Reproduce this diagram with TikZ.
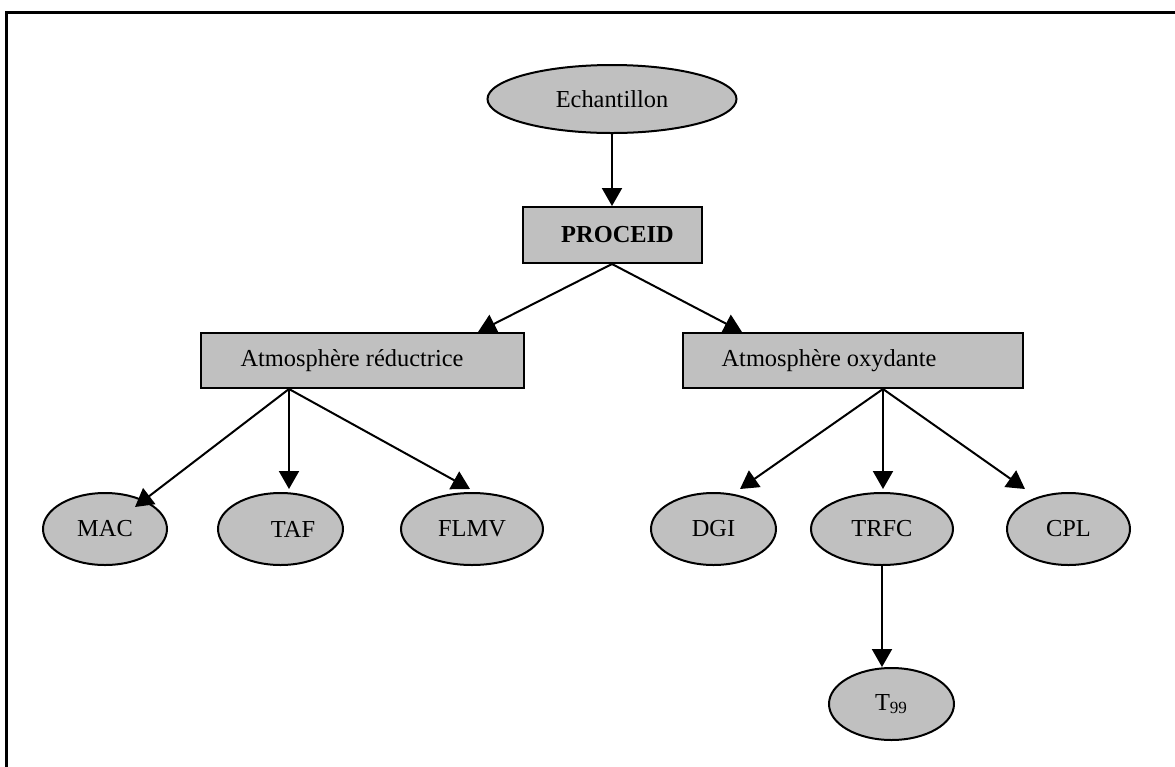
\documentclass[tikz,border=0pt]{standalone}
\usepackage{fontspec}
\setmainfont{Liberation Serif}
\usetikzlibrary{arrows.meta,shapes.geometric}
\definecolor{Shade}{HTML}{C0C0C0}
\tikzset{
  oval/.style={ellipse,draw=black,fill=Shade,line width=1pt,minimum width=62pt,minimum height=36pt,inner sep=0pt},
  box/.style={rectangle,draw=black,fill=Shade,line width=1pt,minimum height=27.5pt,inner sep=0pt},
  flow/.style={-{Triangle[length=9pt,width=10pt]},draw=black,line width=1pt},
  frameline/.style={draw=black,line width=1.5pt}
}

\begin{document}
\begin{tikzpicture}[x=0.5pt,y=-0.5pt,font=\fontsize{12.2}{14}\selectfont]
  \useasboundingbox (0,0) rectangle (1175,767);
  \draw[frameline] (6,767) -- (6,12.5) -- (1175,12.5);
  % top of the tree
  \node[oval,minimum width=124.5pt,minimum height=34pt] (ech) at (612,99) {Echantillon};
  \node[box,minimum width=89.5pt,minimum height=28pt] (proc) at (612,235) {\hspace{5.5pt}\textbf{PROCEID}};
  \node[box,minimum width=161.5pt] (red) at (362.5,360.5) {Atmosphère réductrice\hspace*{10.5pt}};
  \node[box,minimum width=170pt] (ox) at (853,360.5) {Atmosphère oxydante\hspace*{24pt}};
  % methods
  \node[oval] (mac) at (105,529) {MAC};
  \node[oval,minimum width=62.5pt] (taf) at (280.5,529) {\hspace{12.5pt}TAF};
  \node[oval,minimum width=71pt] (flmv) at (472,529) {FLMV};
  \node[oval,minimum width=62.5pt] (dgi) at (713.5,529) {DGI};
  \node[oval,minimum width=71pt] (trfc) at (882,529) {TRFC};
  \node[oval,minimum width=61.5pt] (cpl) at (1068.5,529) {CPL};
  \node[oval,minimum width=62.5pt] (t99) at (891.5,704) {T\textsubscript{99}};
  \coordinate (redfork) at ([xshift=-36.75pt]red.south);
  \coordinate (oxfork) at ([xshift=15pt]ox.south);
  % connectors
  \draw[flow] (ech.south) -- (proc.north);
  \draw[flow] (proc.south) -- ([xshift=57.75pt]red.north);
  \draw[flow] (proc.south) -- ([xshift=-55.5pt]ox.north);
  \draw[flow] (redfork) -- ([xshift=15pt,yshift=-7.5pt]mac.north);
  \draw[flow] (redfork) -- ([yshift=1.5pt]redfork |- taf.north);
  \draw[flow] (redfork) -- ([xshift=-1pt,yshift=1.5pt]flmv.north);
  \draw[flow] (oxfork) -- ([xshift=13.25pt,yshift=1.5pt]dgi.north);
  \draw[flow] (oxfork) -- ([yshift=1.5pt]oxfork |- trfc.north);
  \draw[flow] (oxfork) -- ([xshift=-21.75pt,yshift=1.5pt]cpl.north);
  \draw[flow] (trfc.south) -- (trfc.south |- t99.north);
\end{tikzpicture}
\end{document}
